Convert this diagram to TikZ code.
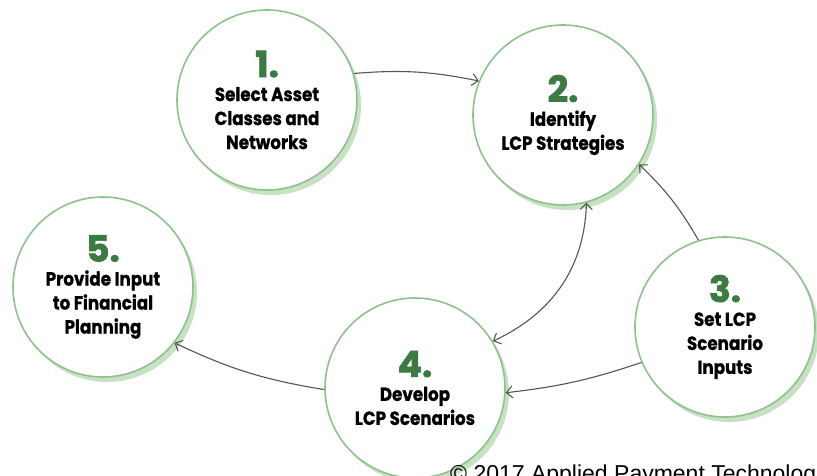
\documentclass[tikz,border=0pt]{standalone}
\usepackage{fontspec}
\setmainfont{Poppins}
\newfontfamily\stagefont{Poppins}[FakeStretch=0.88, FakeBold=0.8]
\newfontfamily\numfont{Poppins}[FakeBold=2]
\newfontfamily\notefont{Liberation Sans}
\usetikzlibrary{arrows.meta,shadows}

\definecolor{ringgreen}{HTML}{8FC18D}
\definecolor{shadegreen}{HTML}{C8E1C5}
\definecolor{numgreen}{HTML}{3C7A43}
\definecolor{linkgray}{HTML}{555555}

% big green step number on top of each circle
\newcommand{\stagenum}[1]{{\numfont\fontsize{36}{36}\selectfont\bfseries\color{numgreen}#1}}

\begin{document}
\begin{tikzpicture}[
    x=1pt, y=1pt,
    stage/.style={circle, draw=ringgreen, line width=1.6pt, fill=white,
        minimum size=180pt, inner sep=0pt, align=center,
        font=\stagefont\bfseries\fontsize{19}{24}\selectfont,
        drop shadow={shadow xshift=4pt, shadow yshift=-5pt,
            fill=shadegreen, opacity=1}},
    link/.style={draw=linkgray, line width=1.1pt,
        -{Straight Barb[length=6pt,width=12pt]}}
]
    \clip (0,0) rectangle (817,475);
    \useasboundingbox (0,0) rectangle (817,475);

    % Stages
    \node[stage] (select)   at (267,375) {\stagenum{1.}\\Select Asset\\Classes and\\Networks};
    \node[stage] (identify) at (563,360) {\stagenum{2.}\\Identify\\LCP Strategies};
    \node[stage] (inputs)   at (725,148) {\stagenum{3.}\\Set LCP\\Scenario\\Inputs};
    \node[stage] (develop)  at (415,87)  {\stagenum{4.}\\Develop\\LCP Scenarios};
    \node[stage] (provide)  at (103,188) {\stagenum{5.}\\Provide Input\\to Financial\\Planning};

    % Links between stages
    \draw[link] (select.17) to[bend left=8] (identify.158);
    \draw[link] (inputs.107) to[bend right=8] (identify.-33);
    \draw[link, {Straight Barb[length=6pt,width=12pt]}-{Straight Barb[length=6pt,width=12pt]}]
        (identify.-75) to[out=-92, in=25] (develop.31);
    \draw[link] (inputs.203) to[bend left=6] (develop.-3);
    \draw[link] (develop.181) to[bend left=8] (provide.-38);

    % Footer, runs off the lower right corner
    \node[anchor=base west, inner sep=0pt, font=\notefont\fontsize{23}{23}\selectfont,
        text=black] (footer) at (450,-6) {© 2017 Applied Payment Technologies};
\end{tikzpicture}
\end{document}
